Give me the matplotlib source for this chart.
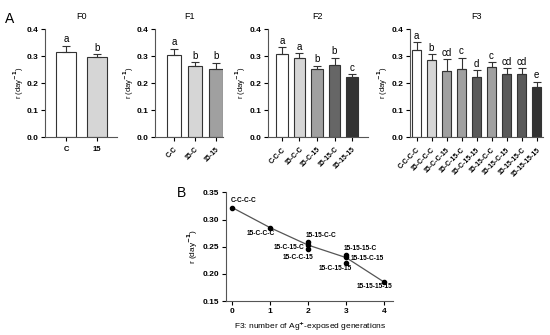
import matplotlib
matplotlib.use("Agg")
import matplotlib.pyplot as plt
import numpy as np

plt.rcParams['font.family'] = ['Liberation Sans', 'DejaVu Sans']
plt.rcParams['font.weight'] = 'bold'

# Panel A data
f0_labels = ['C', '15']
f0_vals = [0.315, 0.298]
f0_err = [0.024, 0.009]
f0_sig = ['a', 'b']
f0_cols = ['white', '#d6d6d6']

f1_labels = ['C-C', '15-C', '15-15']
f1_vals = [0.305, 0.265, 0.252]
f1_err = [0.022, 0.012, 0.024]
f1_sig = ['a', 'b', 'b']
f1_cols = ['white', '#d6d6d6', '#a0a0a0']

f2_labels = ['C-C-C', '15-C-C', '15-C-15', '15-15-C', '15-15-15']
f2_vals = [0.307, 0.292, 0.253, 0.266, 0.223]
f2_err = [0.025, 0.018, 0.012, 0.027, 0.010]
f2_sig = ['a', 'a', 'b', 'b', 'c']
f2_cols = ['white', '#d6d6d6', '#a0a0a0', '#666666', '#333333']

f3_labels = ['C-C-C-C', '15-C-C-C', '15-C-C-15', '15-C-15-C', '15-C-15-15',
             '15-15-C-C', '15-15-C-15', '15-15-15-C', '15-15-15-15']
f3_vals = [0.322, 0.285, 0.246, 0.254, 0.221, 0.259, 0.234, 0.234, 0.185]
f3_err = [0.029, 0.021, 0.042, 0.040, 0.026, 0.018, 0.021, 0.021, 0.019]
f3_sig = ['a', 'b', 'cd', 'c', 'd', 'c', 'cd', 'cd', 'e']
f3_cols = ['white', '#d6d6d6', '#a0a0a0', '#a0a0a0', '#5a5a5a',
           '#a0a0a0', '#5a5a5a', '#5a5a5a', '#333333']

# Panel B data
b_x = [0, 1, 2, 2, 2, 3, 3, 3, 4]
b_y = [0.322, 0.285, 0.259, 0.254, 0.246, 0.235, 0.232, 0.221, 0.185]
b_labels = ['C-C-C-C', '15-C-C-C', '15-15-C-C', '15-C-15-C', '15-C-C-15',
            '15-15-15-C', '15-15-C-15', '15-C-15-15', '15-15-15-15']
line_x = [0, 1, 2, 3, 4]
line_y = [0.322, 0.285, 0.253, 0.230, 0.185]

fig = plt.figure(figsize=(5.5, 3.35), dpi=100)

panels = [
    ('F0', f0_labels, f0_vals, f0_err, f0_sig, f0_cols, [0.082, 0.591, 0.131, 0.322], (-0.68, 1.65), 0),
    ('F1', f1_labels, f1_vals, f1_err, f1_sig, f1_cols, [0.282, 0.591, 0.124, 0.322], (-0.9, 2.35), 45),
    ('F2', f2_labels, f2_vals, f2_err, f2_sig, f2_cols, [0.487, 0.591, 0.182, 0.322], (-0.8, 4.9), 45),
    ('F3', f3_labels, f3_vals, f3_err, f3_sig, f3_cols, [0.745, 0.591, 0.242, 0.322], (-0.45, 8.42), 45),
]

for title, labels, vals, err, sig, cols, pos, xl, rot in panels:
    ax = fig.add_axes(pos)
    x = np.arange(len(vals))
    ax.bar(x, vals, width=0.65, color=cols, edgecolor='#333333', linewidth=0.8, zorder=2)
    ax.errorbar(x, vals, yerr=[np.zeros(len(err)), err], fmt='none', ecolor='#333333',
                elinewidth=0.8, capsize=3, capthick=0.8, zorder=3)
    for xi, v, e, s in zip(x, vals, err, sig):
        ax.text(xi, v + e + 0.006, s, ha='center', va='bottom', fontsize=7, fontweight='normal')
    ax.set_ylim(0, 0.4)
    ax.set_xlim(*xl)
    ax.set_yticks([0.0, 0.1, 0.2, 0.3, 0.4])
    ax.set_yticklabels(['0.0', '0.1', '0.2', '0.3', '0.4'])
    ax.set_xticks(x)
    if rot:
        ax.set_xticklabels(labels, rotation=45, ha='right', rotation_mode='anchor', fontsize=5)
    else:
        ax.set_xticklabels(labels, fontsize=5.5)
    ax.tick_params(axis='y', labelsize=6, length=3, width=0.8, pad=1.5)
    ax.tick_params(axis='x', length=3, width=0.8)
    ax.spines['top'].set_visible(False)
    ax.spines['right'].set_visible(False)
    ax.spines['left'].set_color('#555555')
    ax.spines['bottom'].set_color('#555555')
    ax.set_ylabel('r (day$^{\\mathbf{-1}}$)', fontsize=5.5, labelpad=1)
    ax.set_title(title, fontsize=6.5, pad=7)

fig.text(0.009, 0.965, 'A', fontsize=10, fontweight='normal', va='top')

# Panel B
axb = fig.add_axes([0.411, 0.101, 0.304, 0.325])
axb.plot(line_x, line_y, color='#555555', linewidth=0.9, zorder=1)
axb.scatter(b_x, b_y, s=9, color='black', zorder=2)
# (dx, dy) in points, horizontal alignment
offsets = [(-1, 5, 'left'), (-6.5, -4.5, 'center'), (-1.5, 4.5, 'left'), (-3, -2, 'right'),
           (-7, -6, 'center'), (-2, 4.5, 'left'), (3, -1.5, 'left'), (-8, -4.5, 'center'),
           (-7, -3, 'center')]
for xi, yi, lab, (dx, dy, ha) in zip(b_x, b_y, b_labels, offsets):
    axb.annotate(lab, (xi, yi), xytext=(dx, dy), textcoords='offset points',
                 fontsize=4.8, ha=ha, va='center')
axb.set_xlim(-0.16, 4.24)
axb.set_ylim(0.15, 0.35)
axb.set_xticks([0, 1, 2, 3, 4])
axb.set_yticks([0.15, 0.20, 0.25, 0.30, 0.35])
axb.set_yticklabels(['0.15', '0.20', '0.25', '0.30', '0.35'])
axb.tick_params(labelsize=6, length=3, width=0.8, pad=2)
axb.spines['top'].set_visible(False)
axb.spines['right'].set_visible(False)
axb.spines['left'].set_color('#555555')
axb.spines['bottom'].set_color('#555555')
axb.set_ylabel('r (day$^{\\mathbf{-1}}$)', fontsize=6, labelpad=2)
axb.set_xlabel('F3: number of Ag$^{\\mathbf{+}}$-exposed generations', fontsize=6, labelpad=3)

fig.text(0.322, 0.445, 'B', fontsize=10, fontweight='normal', va='top')

fig.savefig('out.png', dpi=100)
